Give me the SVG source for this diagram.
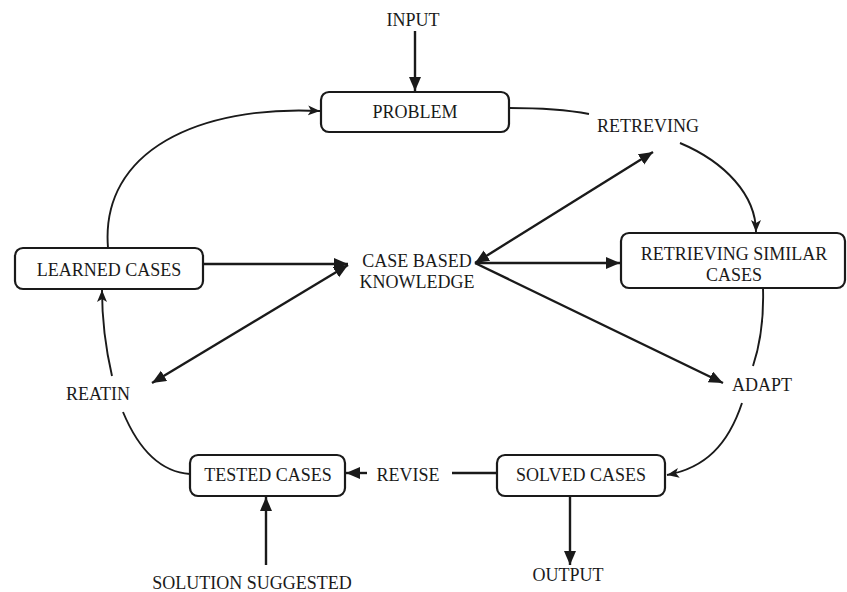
<svg xmlns="http://www.w3.org/2000/svg" width="847" height="592" viewBox="0 0 847 592">
  <style>
    .box { fill: #ffffff; stroke: #1a1a1a; stroke-width: 2.2; }
    .lbl { font-family: "Liberation Serif", "Times New Roman", serif; font-size: 18px; fill: #1a1a1a; text-anchor: middle; }
    .ln { fill: none; stroke: #1a1a1a; stroke-width: 2.4; }
    .cv { fill: none; stroke: #1a1a1a; stroke-width: 1.9; }
  </style>
  <defs>
    <marker id="tri" markerUnits="userSpaceOnUse" markerWidth="16" markerHeight="14" refX="14" refY="6" orient="auto-start-reverse">
      <path d="M0,0 L14,6 L0,12 z" fill="#1a1a1a"/>
    </marker>
    <marker id="barb" markerUnits="userSpaceOnUse" markerWidth="14" markerHeight="12" refX="12" refY="5" orient="auto">
      <path d="M0,0 L12,5 L0,10 L3,5 z" fill="#1a1a1a"/>
    </marker>
  </defs>

  <!-- connectors -->
  <g id="connectors">
    <line class="ln" x1="415" y1="31" x2="415" y2="91" marker-end="url(#tri)"/>
    <path class="cv" d="M509,108 C540,108 568,110 589,114"/>
    <path class="cv" d="M680,143 C725,162 756,195 756,232" marker-end="url(#barb)"/>
    <line class="ln" x1="475" y1="263" x2="653" y2="152" marker-start="url(#tri)" marker-end="url(#tri)"/>
    <line class="ln" x1="475" y1="263" x2="620" y2="263" marker-end="url(#tri)"/>
    <line class="ln" x1="475" y1="263" x2="723" y2="383" marker-end="url(#tri)"/>
    <path class="cv" d="M763,288 C764,320 760,345 753,366"/>
    <path class="cv" d="M742,403 C728,445 705,468 667,475" marker-end="url(#barb)"/>
    <line class="ln" x1="452" y1="473" x2="497" y2="473"/>
    <line class="ln" x1="367" y1="473" x2="346" y2="473" marker-end="url(#tri)"/>
    <line class="ln" x1="570" y1="496" x2="570" y2="565" marker-end="url(#tri)"/>
    <line class="ln" x1="266" y1="565" x2="266" y2="497" marker-end="url(#tri)"/>
    <path class="cv" d="M190,474 C160,472 138,448 123,412"/>
    <path class="cv" d="M112,376 C106,350 102,320 102,290" marker-end="url(#barb)"/>
    <path class="cv" d="M108,248 C100,150 200,105 320,111" marker-end="url(#barb)"/>
    <line class="ln" x1="203" y1="264" x2="348" y2="264" marker-end="url(#tri)"/>
    <line class="ln" x1="348" y1="265" x2="152" y2="383" marker-start="url(#tri)" marker-end="url(#tri)"/>
  </g>

  <!-- nodes -->
  <g id="input">
    <text class="lbl" x="413" y="26">INPUT</text>
  </g>
  <g id="problem">
    <rect class="box" x="321" y="92" width="188" height="40" rx="8"/>
    <text class="lbl" x="415" y="118">PROBLEM</text>
  </g>
  <g id="retreving">
    <text class="lbl" x="648" y="132">RETREVING</text>
  </g>
  <g id="learned-cases">
    <rect class="box" x="15" y="248" width="188" height="41" rx="8"/>
    <text class="lbl" x="109" y="276">LEARNED CASES</text>
  </g>
  <g id="case-based-knowledge">
    <text class="lbl" x="417" y="267">CASE BASED</text>
    <text class="lbl" x="417" y="288">KNOWLEDGE</text>
  </g>
  <g id="retrieving-similar-cases">
    <rect class="box" x="621" y="233" width="224" height="55" rx="8"/>
    <text class="lbl" x="734" y="260">RETRIEVING SIMILAR</text>
    <text class="lbl" x="734" y="281">CASES</text>
  </g>
  <g id="reatin">
    <text class="lbl" x="98" y="400">REATIN</text>
  </g>
  <g id="adapt">
    <text class="lbl" x="762" y="391">ADAPT</text>
  </g>
  <g id="tested-cases">
    <rect class="box" x="190" y="455" width="155" height="41" rx="8"/>
    <text class="lbl" x="268" y="481">TESTED CASES</text>
  </g>
  <g id="revise">
    <text class="lbl" x="408" y="481">REVISE</text>
  </g>
  <g id="solved-cases">
    <rect class="box" x="497" y="455" width="168" height="41" rx="8"/>
    <text class="lbl" x="581" y="481">SOLVED CASES</text>
  </g>
  <g id="output">
    <text class="lbl" x="568" y="581">OUTPUT</text>
  </g>
  <g id="solution-suggested">
    <text class="lbl" x="252" y="589">SOLUTION SUGGESTED</text>
  </g>
</svg>
